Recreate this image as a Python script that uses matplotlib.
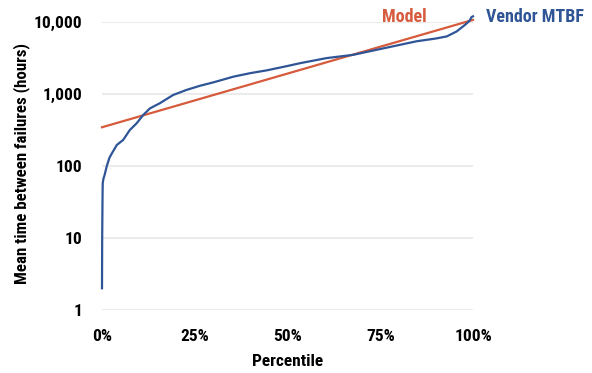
import matplotlib
matplotlib.use('Agg')
import matplotlib.pyplot as plt
from matplotlib.ticker import FixedLocator, FuncFormatter

# 字体：窄体加粗（Roboto Condensed），没有就退回 DejaVu
plt.rcParams['font.family'] = ['Roboto Condensed', 'DejaVu Sans']
plt.rcParams['font.weight'] = 'bold'

# Vendor MTBF 曲线（从图上读出的点）
vendor_pct = [0, 0.05, 0.15, 0.2, 0.4, 0.7, 1.3, 2.0, 2.7, 4.0, 5.7, 7.5, 9.3,
              11.1, 12.9, 15.6, 19.2, 22.8, 26.4, 30, 35.4, 40, 44.4, 50, 53.4,
              60.5, 67.7, 75.8, 84.8, 90, 92.9, 95.6, 97.8, 99, 99.6, 100]
vendor_mtbf = [2, 10, 40, 58, 67, 75, 100, 130, 151, 196, 230, 316, 390,
               510, 630, 745, 970, 1140, 1300, 1450, 1740, 1950, 2130, 2450, 2680,
               3150, 3500, 4300, 5400, 5900, 6300, 7400, 9100, 10300, 11700, 12000]

# Model 直线（对数坐标下的直线）
model_pct = [0, 100]
model_mtbf = [345, 10700]

y_ticks = [1, 10, 100, 1000, 10000]
x_ticks = [0, 25, 50, 75, 100]

blue = '#2F5597'
red = '#D65A3C'

fig = plt.figure(figsize=(5.92, 3.73), dpi=100)
ax = fig.add_axes([0.1723, 0.169, 0.6267, 0.772])

# 线尾略超出 10,000，不裁剪
ax.plot(model_pct, model_mtbf, color=red, lw=1.6, zorder=3, clip_on=False)
ax.plot(vendor_pct, vendor_mtbf, color=blue, lw=1.6, zorder=4, clip_on=False)

ax.set_yscale('log')
ax.set_ylim(1, 10000)
ax.set_xlim(0, 100)
ax.yaxis.set_major_locator(FixedLocator(y_ticks))
ax.yaxis.set_minor_locator(FixedLocator([]))
ax.yaxis.set_major_formatter(FuncFormatter(lambda v, p: '{:,}'.format(int(round(v)))))
ax.xaxis.set_major_locator(FixedLocator(x_ticks))
ax.xaxis.set_major_formatter(FuncFormatter(lambda v, p: '{:d}%'.format(int(v))))

ax.grid(axis='y', color='#EBEBEB', lw=1.5, zorder=0)
ax.set_axisbelow(True)
for s in ax.spines.values():
    s.set_visible(False)
ax.tick_params(length=0, labelsize=12.5)
ax.tick_params(axis='y', pad=14)
ax.tick_params(axis='x', pad=14)
for lab in ax.get_xticklabels() + ax.get_yticklabels():
    lab.set_fontweight('bold')

ax.set_ylabel('Mean time between failures (hours)', fontsize=12.2, fontweight='bold',
              ha='center', va='center')
ax.yaxis.set_label_coords(-0.216, 0.51)
ax.set_xlabel('Percentile', fontsize=12.5, fontweight='bold', labelpad=7)

# 系列名直接标在线尾
fig.text(404 / 592, 1 - 17 / 373, 'Model', color=red, fontsize=13,
         fontweight='bold', ha='center', va='center')
fig.text(535 / 592, 1 - 17 / 373, 'Vendor MTBF', color=blue, fontsize=13,
         fontweight='bold', ha='center', va='center')

fig.savefig('out.png', dpi=100)
